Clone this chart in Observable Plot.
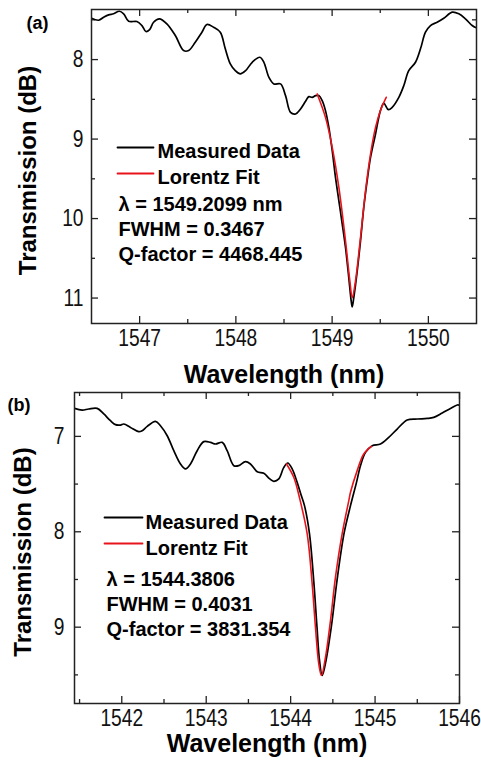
<!DOCTYPE html>
<html><head><meta charset="utf-8">
<script src="https://cdn.jsdelivr.net/npm/d3@7"></script>
<script src="https://cdn.jsdelivr.net/npm/@observablehq/plot@0.6"></script>
<style>
html,body{margin:0;padding:0;background:#fff;}
#wrap{position:relative;width:481px;height:760px;overflow:hidden;background:#fff;}
#wrap svg{position:absolute;left:0;}
</style></head><body><div id="wrap"></div>
<script>
// ---- Panel (a) data: [wavelength nm, transmission dB]
const aMeasured = [
[1546.5,7.480],[1546.574,7.505],[1546.626,7.467],[1546.678,7.437],[1546.730,7.424],[1546.789,7.392],
[1546.834,7.424],[1546.886,7.518],[1546.972,7.521],[1547.024,7.572],[1547.065,7.647],[1547.104,7.622],
[1547.145,7.530],[1547.205,7.487],[1547.283,7.550],[1547.371,7.698],[1547.457,7.887],[1547.509,7.887],
[1547.578,7.782],[1547.647,7.656],[1547.699,7.559],[1547.768,7.593],[1547.838,7.656],[1547.890,7.865],
[1547.942,8.054],[1547.994,8.139],[1548.046,8.180],[1548.101,8.139],[1548.170,8.034],[1548.249,7.971],
[1548.291,8.034],[1548.343,8.223],[1548.395,8.306],[1548.464,8.306],[1548.516,8.453],[1548.568,8.664],
[1548.620,8.684],[1548.672,8.621],[1548.724,8.525],[1548.758,8.466],[1548.793,8.475],[1548.828,8.453],
[1548.862,8.453],[1548.897,8.516],[1548.931,8.642],[1548.966,8.853],[1549.001,9.146],[1549.035,9.482],
[1549.070,9.776],[1549.105,10.069],[1549.139,10.364],[1549.173,10.742],[1549.198,11.035],[1549.209,11.111],
[1549.225,10.994],[1549.261,10.657],[1549.295,10.280],[1549.329,9.860],[1549.364,9.524],[1549.399,9.230],
[1549.451,8.936],[1549.502,8.642],[1549.537,8.550],[1549.585,8.630],[1549.624,8.601],[1549.693,8.475],
[1549.745,8.327],[1549.796,8.139],[1549.866,8.034],[1549.918,7.865],[1549.970,7.656],[1550.022,7.572],
[1550.091,7.530],[1550.160,7.480],[1550.247,7.404],[1550.316,7.424],[1550.385,7.487],[1550.455,7.572],
[1550.5,7.600]
];
const aFit = [
[1548.845,8.432],[1548.931,8.727],[1549.001,9.105],[1549.070,9.608],[1549.139,10.280],[1549.184,10.783],
[1549.209,10.994],[1549.243,10.783],[1549.295,10.238],[1549.347,9.650],[1549.399,9.188],[1549.451,8.853],
[1549.502,8.640],[1549.562,8.475]
];
// ---- Panel (b) data
const bMeasured = [
[1541.44,6.707],[1541.531,6.724],[1541.609,6.713],[1541.709,6.707],[1541.787,6.765],[1541.866,6.836],
[1541.925,6.877],[1541.985,6.881],[1542.024,6.870],[1542.103,6.906],[1542.201,6.951],[1542.242,6.940],
[1542.301,6.895],[1542.399,6.843],[1542.458,6.888],[1542.538,6.993],[1542.616,7.150],[1542.695,7.289],
[1542.754,7.341],[1542.814,7.289],[1542.893,7.150],[1542.971,7.055],[1543.051,7.063],[1543.110,7.080],
[1543.189,7.063],[1543.248,7.150],[1543.327,7.307],[1543.386,7.307],[1543.465,7.265],[1543.524,7.289],
[1543.604,7.370],[1543.682,7.387],[1543.753,7.446],[1543.800,7.471],[1543.860,7.446],[1543.919,7.325],
[1543.966,7.279],[1544.018,7.341],[1544.077,7.482],[1544.122,7.610],[1544.164,7.726],[1544.223,8.019],
[1544.276,8.542],[1544.312,9.000],[1544.342,9.349],[1544.374,9.506],[1544.419,9.349],[1544.484,8.982],
[1544.549,8.511],[1544.632,8.019],[1544.709,7.726],[1544.780,7.482],[1544.827,7.307],[1544.887,7.168],
[1544.966,7.097],[1545.064,7.080],[1545.162,7.010],[1545.262,6.923],[1545.380,6.828],[1545.499,6.818],
[1545.617,6.812],[1545.695,6.801],[1545.795,6.755],[1545.893,6.707],[1545.973,6.671],[1546.0,6.673]
];
const bFit = [
[1543.951,7.289],[1544.037,7.429],[1544.108,7.655],[1544.196,8.022],[1544.255,8.546],[1544.294,9.000],
[1544.333,9.383],[1544.365,9.506],[1544.413,9.314],[1544.472,8.930],[1544.531,8.476],[1544.610,8.022],
[1544.689,7.673],[1544.709,7.586],[1544.788,7.359],[1544.866,7.184],[1544.957,7.105]
];
// ---- ticks & labels
const aXDomain = [1546.5, 1550.5];
const aYDomain = [7.37, 11.32];
const aXMajor = [1547, 1548, 1549, 1550];
const aXMinor = [1547.5, 1548.5, 1549.5];
const aYMajor = [8, 9, 10, 11];
const aYMinor = [7.5, 8.5, 9.5, 10.5];
const bXDomain = [1541.44, 1546];
const bYDomain = [6.54, 9.80];
const bXMajor = [1542, 1543, 1544, 1545, 1546];
const bXMinor = [1541.5, 1542.5, 1543.5, 1544.5, 1545.5];
const bYMajor = [7, 8, 9];
const bYMinor = [7.5, 8.5, 9.5];
const legendLabels = ["Measured Data", "Lorentz Fit"];
const aStats = ["λ = 1549.2099 nm", "FWHM = 0.3467", "Q-factor = 4468.445"];
const bStats = ["λ = 1544.3806", "FWHM = 0.4031", "Q-factor = 3831.354"];
const xTitle = "Wavelength (nm)";
const yTitle = "Transmission (dB)";

const BOLD = "'Liberation Sans', Arial, Helvetica, sans-serif";
const RED = "#e8141c";
const lineShape = {draw(ctx, l) { ctx.moveTo(0, 0); ctx.lineTo(0, -l); }};

function panel(c) {
  const fw = c.width - c.ml - c.mr, fh = c.height - c.mt - c.mb;
  const tickCol = "#222";
  const svg = Plot.plot({
    width: c.width, height: c.height,
    marginLeft: c.ml, marginRight: c.mr, marginTop: c.mt, marginBottom: c.mb,
    style: {background: "transparent", fontFamily: BOLD, color: "#000", overflow: "visible"},
    x: {domain: c.xDomain},
    y: {domain: c.yDomain, reverse: true},
    marks: [
      Plot.axisX({ticks: c.xMajor, anchor: "bottom", tickSize: 0, tickPadding: 5, fontSize: 24, tickFormat: d => String(d), fill: "#111", label: null}),
      Plot.axisY({ticks: c.yMajor, anchor: "left", tickSize: 0, tickPadding: c.yPad, fontSize: 24, tickFormat: d => String(d), fill: "#111", label: null}),
      // inward ticks on all four sides
      Plot.tickX(c.xMajor, {x: d => d, insetTop: fh - 7, stroke: tickCol, strokeWidth: 1.3}),
      Plot.tickX(c.xMinor, {x: d => d, insetTop: fh - 4, stroke: tickCol, strokeWidth: 1.3}),
      Plot.tickX(c.xMajor, {x: d => d, insetBottom: fh - 7, stroke: tickCol, strokeWidth: 1.3}),
      Plot.tickX(c.xMinor, {x: d => d, insetBottom: fh - 4, stroke: tickCol, strokeWidth: 1.3}),
      Plot.tickY(c.yMajor, {y: d => d, insetRight: fw - 7, stroke: tickCol, strokeWidth: 1.3}),
      Plot.tickY(c.yMinor, {y: d => d, insetRight: fw - 4, stroke: tickCol, strokeWidth: 1.3}),
      Plot.tickY(c.yMajor, {y: d => d, insetLeft: fw - 7, stroke: tickCol, strokeWidth: 1.3}),
      Plot.tickY(c.yMinor, {y: d => d, insetLeft: fw - 4, stroke: tickCol, strokeWidth: 1.3}),
      // curves
      Plot.line(c.measured, {x: d => d[0], y: d => d[1], stroke: "#000", strokeWidth: 1.7, curve: "catmull-rom", clip: true}),
      Plot.line(c.fit, {x: d => d[0], y: d => d[1], stroke: RED, strokeWidth: 1.6, curve: "catmull-rom", clip: true}),
      // legend
      Plot.vector([0], {frameAnchor: "top-left", dx: c.lg.sx, dy: c.lg.sy, length: c.lg.len, rotate: 90, anchor: "start", shape: lineShape, stroke: "#000", strokeWidth: 1.8}),
      Plot.vector([0], {frameAnchor: "top-left", dx: c.lg.sx, dy: c.lg.sy + 26, length: c.lg.len, rotate: 90, anchor: "start", shape: lineShape, stroke: RED, strokeWidth: 1.8}),
      Plot.text([legendLabels.join("\n")], {text: d => d, frameAnchor: "top-left", textAnchor: "start", lineAnchor: "top", dx: c.lg.tx, dy: c.lg.ty, lineHeight: 1.3, fontSize: 20, fontWeight: "bold", fill: "#000"}),
      Plot.text([c.stats.join("\n")], {text: d => d, frameAnchor: "top-left", textAnchor: "start", lineAnchor: "top", dx: c.st.x, dy: c.st.y, lineHeight: 1.25, fontSize: 20, fontWeight: "bold", fill: "#000"}),
      // titles
      Plot.text([xTitle], {text: d => d, frameAnchor: "bottom", textAnchor: "middle", lineAnchor: "bottom", dy: c.xtDy, fontSize: 25, fontWeight: "bold", fill: "#000"}),
      Plot.text([yTitle], {text: d => d, frameAnchor: "left", textAnchor: "middle", rotate: -90, lineAnchor: "middle", dx: c.ytDx, dy: c.ytDy, fontSize: 24, fontWeight: "bold", fill: "#000"}),
      Plot.text([c.tag], {text: d => d, frameAnchor: "top-left", textAnchor: "start", lineAnchor: "bottom", dx: c.tagDx, dy: c.tagDy, fontSize: 18, fontWeight: "bold", fill: "#000"}),
      Plot.frame({stroke: "#222", strokeWidth: 1.5})
    ]
  });
  // narrow the tick-label glyphs (reference uses a condensed face)
  svg.querySelectorAll('g[aria-label$="tick label"] text').forEach(t => {
    const tr = t.getAttribute("transform");
    if (tr) {
      t.setAttribute("transform", tr + " scale(0.8,1)");
    } else {
      const x = +(t.getAttribute("x") || 0), y = +(t.getAttribute("y") || 0);
      t.removeAttribute("x"); t.removeAttribute("y");
      t.setAttribute("transform", `translate(${x},${y}) scale(0.8,1)`);
    }
  });
  return svg;
}

const wrap = document.getElementById("wrap");
const svgA = panel({
  width: 481, height: 392, ml: 91, mr: 5, mt: 9, mb: 69,
  xDomain: aXDomain, yDomain: aYDomain, xMajor: aXMajor, xMinor: aXMinor, yMajor: aYMajor, yMinor: aYMinor,
  measured: aMeasured, fit: aFit, stats: aStats, tag: "(a)", yPad: 8,
  lg: {sx: 26, sy: 138, len: 36, tx: 66, ty: 130},
  st: {x: 27, y: 184},
  xtDy: 59, ytDx: -63, ytDy: 4, tagDx: -65, tagDy: 19
});
svgA.style.top = "0px";
wrap.appendChild(svgA);

const svgB = panel({
  width: 481, height: 380, ml: 74, mr: 22, mt: 12, mb: 57,
  xDomain: bXDomain, yDomain: bYDomain, xMajor: bXMajor, xMinor: bXMinor, yMajor: bYMajor, yMinor: bYMinor,
  measured: bMeasured, fit: bFit, stats: bStats, tag: "(b)", yPad: 10,
  lg: {sx: 30, sy: 125, len: 38, tx: 71, ty: 118},
  st: {x: 32, y: 176},
  xtDy: 48, ytDx: -51, ytDy: 4, tagDx: -67, tagDy: 18
});
svgB.style.top = "380px";
wrap.appendChild(svgB);
</script>
</body></html>
